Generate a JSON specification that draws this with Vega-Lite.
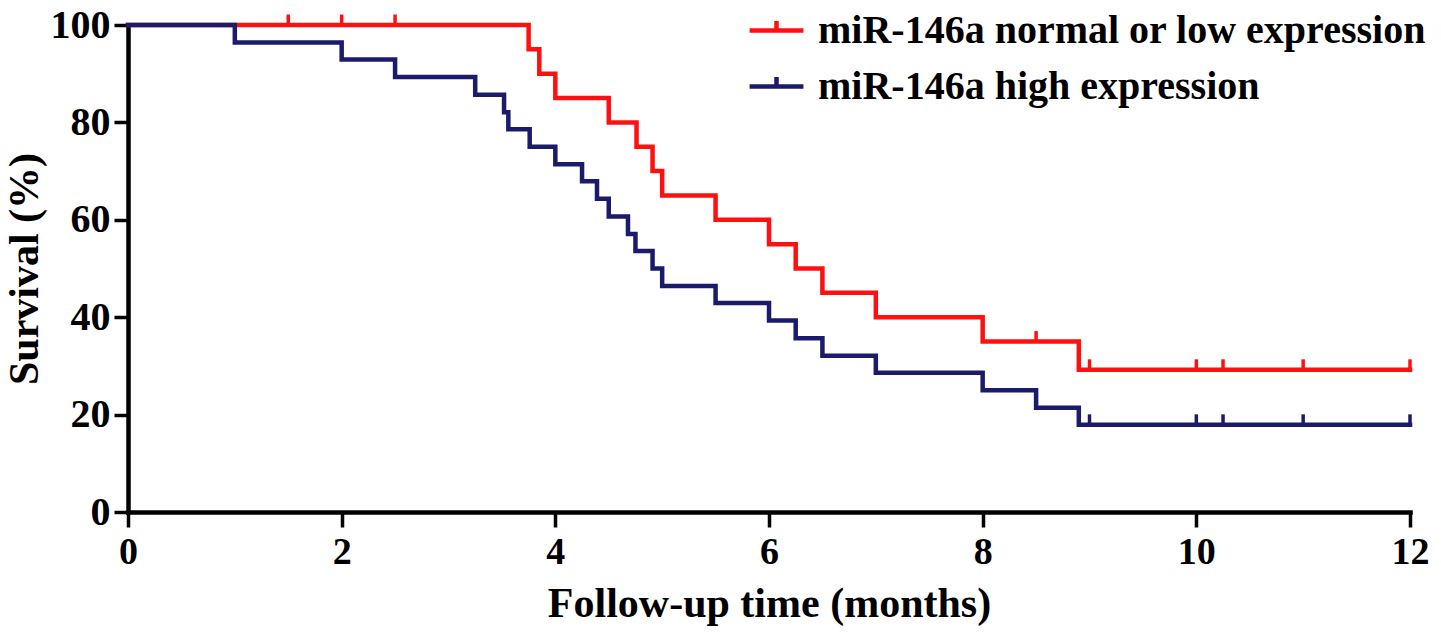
{
  "$schema": "https://vega.github.io/schema/vega-lite/v6.json",
  "autosize": "none",
  "width": 1282,
  "height": 487,
  "padding": {"left": 128, "top": 25, "right": 31, "bottom": 126},
  "background": "white",
  "config": {
    "view": {"stroke": null},
    "font": "Liberation Serif"
  },
  "datasets": {
    "curves": [
      {"group": "miR-146a normal or low expression", "time": 0, "survival": 100},
      {"group": "miR-146a normal or low expression", "time": 3.75, "survival": 95},
      {"group": "miR-146a normal or low expression", "time": 3.85, "survival": 90},
      {"group": "miR-146a normal or low expression", "time": 4.0, "survival": 85},
      {"group": "miR-146a normal or low expression", "time": 4.5, "survival": 80},
      {"group": "miR-146a normal or low expression", "time": 4.76, "survival": 75},
      {"group": "miR-146a normal or low expression", "time": 4.91, "survival": 70},
      {"group": "miR-146a normal or low expression", "time": 5.0, "survival": 65},
      {"group": "miR-146a normal or low expression", "time": 5.5, "survival": 60},
      {"group": "miR-146a normal or low expression", "time": 6.0, "survival": 55},
      {"group": "miR-146a normal or low expression", "time": 6.25, "survival": 50},
      {"group": "miR-146a normal or low expression", "time": 6.5, "survival": 45},
      {"group": "miR-146a normal or low expression", "time": 7.0, "survival": 40},
      {"group": "miR-146a normal or low expression", "time": 8.0, "survival": 35},
      {"group": "miR-146a normal or low expression", "time": 8.9, "survival": 29.2},
      {"group": "miR-146a normal or low expression", "time": 12, "survival": 29.2},
      {"group": "miR-146a high expression", "time": 0, "survival": 100},
      {"group": "miR-146a high expression", "time": 1.0, "survival": 96.4},
      {"group": "miR-146a high expression", "time": 2.0, "survival": 92.9},
      {"group": "miR-146a high expression", "time": 2.5, "survival": 89.3},
      {"group": "miR-146a high expression", "time": 3.25, "survival": 85.7},
      {"group": "miR-146a high expression", "time": 3.52, "survival": 82.1},
      {"group": "miR-146a high expression", "time": 3.56, "survival": 78.6},
      {"group": "miR-146a high expression", "time": 3.76, "survival": 75.0},
      {"group": "miR-146a high expression", "time": 4.0, "survival": 71.4},
      {"group": "miR-146a high expression", "time": 4.25, "survival": 67.9},
      {"group": "miR-146a high expression", "time": 4.39, "survival": 64.3},
      {"group": "miR-146a high expression", "time": 4.5, "survival": 60.7},
      {"group": "miR-146a high expression", "time": 4.68, "survival": 57.1},
      {"group": "miR-146a high expression", "time": 4.75, "survival": 53.6},
      {"group": "miR-146a high expression", "time": 4.91, "survival": 50.0},
      {"group": "miR-146a high expression", "time": 5.0, "survival": 46.4},
      {"group": "miR-146a high expression", "time": 5.5, "survival": 42.9},
      {"group": "miR-146a high expression", "time": 6.0, "survival": 39.3},
      {"group": "miR-146a high expression", "time": 6.25, "survival": 35.7},
      {"group": "miR-146a high expression", "time": 6.5, "survival": 32.1},
      {"group": "miR-146a high expression", "time": 7.0, "survival": 28.6},
      {"group": "miR-146a high expression", "time": 8.0, "survival": 25.0},
      {"group": "miR-146a high expression", "time": 8.5, "survival": 21.4},
      {"group": "miR-146a high expression", "time": 8.9, "survival": 17.9},
      {"group": "miR-146a high expression", "time": 12, "survival": 17.9}
    ],
    "censored": [
      {"group": "miR-146a normal or low expression", "time": 1.5, "survival": 100},
      {"group": "miR-146a normal or low expression", "time": 2.0, "survival": 100},
      {"group": "miR-146a normal or low expression", "time": 2.5, "survival": 100},
      {"group": "miR-146a normal or low expression", "time": 8.5, "survival": 35},
      {"group": "miR-146a normal or low expression", "time": 9.0, "survival": 29.2},
      {"group": "miR-146a normal or low expression", "time": 10.0, "survival": 29.2},
      {"group": "miR-146a normal or low expression", "time": 10.25, "survival": 29.2},
      {"group": "miR-146a normal or low expression", "time": 11.0, "survival": 29.2},
      {"group": "miR-146a normal or low expression", "time": 12.0, "survival": 29.2},
      {"group": "miR-146a high expression", "time": 9.0, "survival": 17.9},
      {"group": "miR-146a high expression", "time": 10.0, "survival": 17.9},
      {"group": "miR-146a high expression", "time": 10.25, "survival": 17.9},
      {"group": "miR-146a high expression", "time": 11.0, "survival": 17.9},
      {"group": "miR-146a high expression", "time": 12.0, "survival": 17.9}
    ]
  },
  "encoding": {
    "x": {
      "field": "time", "type": "quantitative",
      "scale": {"domain": [0, 12], "nice": false, "zero": true},
      "axis": {
        "title": "Follow-up time (months)",
        "values": [0, 2, 4, 6, 8, 10, 12],
        "grid": false,
        "domainColor": "black", "domainWidth": 4.5, "domainCap": "square",
        "tickColor": "black", "tickWidth": 3.5, "tickSize": 15,
        "labelFont": "Liberation Serif", "labelFontWeight": "bold", "labelFontSize": 38, "labelColor": "black",
        "labelPadding": 6, "labelFlush": false,
        "titleFont": "Liberation Serif", "titleFontWeight": "bold", "titleFontSize": 42, "titleColor": "black",
        "titlePadding": 12
      }
    },
    "y": {
      "field": "survival", "type": "quantitative",
      "scale": {"domain": [0, 100], "nice": false},
      "axis": {
        "title": "Survival (%)",
        "values": [0, 20, 40, 60, 80, 100],
        "grid": false,
        "domainColor": "black", "domainWidth": 4.5, "domainCap": "square",
        "tickColor": "black", "tickWidth": 3.5, "tickSize": 14,
        "labelFont": "Liberation Serif", "labelFontWeight": "bold", "labelFontSize": 40, "labelColor": "black",
        "labelPadding": 4,
        "titleFont": "Liberation Serif", "titleFontWeight": "bold", "titleFontSize": 42, "titleColor": "black",
        "titlePadding": 4
      }
    },
    "color": {
      "field": "group", "type": "nominal",
      "scale": {
        "domain": ["miR-146a normal or low expression", "miR-146a high expression"],
        "range": ["#ff1010", "#1c1a6b"]
      },
      "legend": {
        "title": null,
        "orient": "none",
        "legendX": 619,
        "legendY": -24,
        "symbolType": "M-1,0H1M0,0V-0.35",
        "symbolSize": 2900,
        "symbolStrokeWidth": 4.5,
        "symbolFillColor": "transparent",
        "labelFont": "Liberation Serif", "labelFontWeight": "bold", "labelFontSize": 40, "labelColor": "black",
        "labelOffset": 12,
        "rowPadding": 6,
        "labelLimit": 800
      }
    }
  },
  "layer": [
    {
      "data": {"name": "curves"},
      "mark": {"type": "line", "interpolate": "step-after", "strokeWidth": 4.5, "strokeCap": "square"}
    },
    {
      "data": {"name": "censored"},
      "mark": {"type": "point", "shape": "M0,0V-1", "filled": false, "strokeWidth": 3.5, "size": 440, "opacity": 1}
    }
  ]
}
